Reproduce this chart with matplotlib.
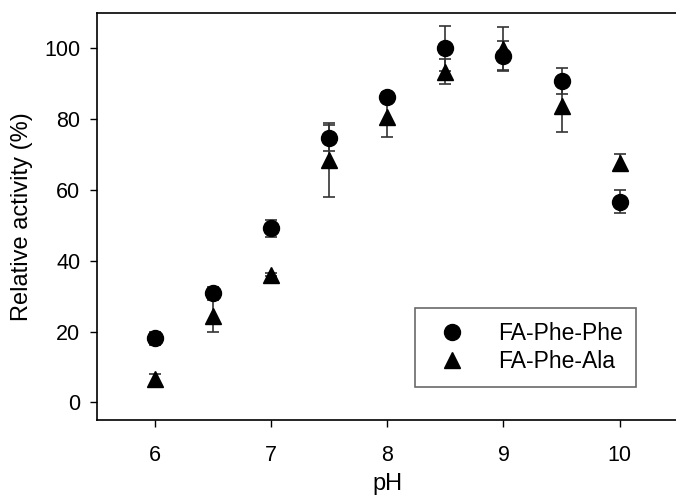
import numpy as np
import matplotlib
matplotlib.use("Agg")
import matplotlib.pyplot as plt

plt.rcParams['font.family'] = ['Liberation Sans', 'DejaVu Sans']

ph = [6, 6.5, 7, 7.5, 8, 8.5, 9, 9.5, 10]

# FA-Phe-Phe
phe_phe = [18.1, 31.0, 49.2, 74.7, 86.3, 100.0, 98.0, 90.8, 56.7]
phe_phe_err = [1.8, 1.5, 2.4, 3.8, 1.5, 6.3, 4.0, 3.6, 3.3]

# FA-Phe-Ala
phe_ala = [6.6, 24.5, 36.1, 68.5, 80.6, 93.4, 99.8, 83.7, 67.7]
phe_ala_err = [1.5, 4.5, 0.5, 10.4, 5.5, 3.5, 6.2, 7.3, 2.4]

fig = plt.figure(figsize=(6.76, 4.95), dpi=100)
ax = fig.add_axes([0.1435, 0.1515, 0.859, 0.822])

ax.errorbar(ph, phe_phe, yerr=phe_phe_err, fmt='o', color='black', ms=11.5,
            ecolor='#333333', elinewidth=1.2, capsize=4.5, capthick=1.2,
            label='FA-Phe-Phe')
ax.errorbar(ph, phe_ala, yerr=phe_ala_err, fmt='^', color='black', ms=11.5,
            ecolor='#333333', elinewidth=1.2, capsize=4.5, capthick=1.2,
            label='FA-Phe-Ala')

ax.set_xlim(5.5, 10.5)
ax.set_ylim(-5, 110)
ax.set_xticks([6, 7, 8, 9, 10])
ax.set_yticks([0, 20, 40, 60, 80, 100])
ax.tick_params(direction='out', length=5, width=1, labelsize=15.5)
ax.tick_params(axis='x', pad=13)
ax.tick_params(axis='y', pad=7)
for s in ax.spines.values():
    s.set_linewidth(1.2)

ax.set_xlabel('pH', fontsize=17, labelpad=5)
ax.set_ylabel('Relative activity (%)', fontsize=17, labelpad=8)

handles, labels = ax.get_legend_handles_labels()
handles = [h[0] for h in handles]
leg = ax.legend(handles, labels, loc='lower right', bbox_to_anchor=(0.929, 0.081),
                fontsize=16.5, frameon=True, fancybox=False, edgecolor='#444444',
                borderpad=0.6, handletextpad=1.0, labelspacing=0.25,
                borderaxespad=0, markerscale=1.0)
leg.get_frame().set_linewidth(1.2)

fig.savefig('out.png', dpi=100)
